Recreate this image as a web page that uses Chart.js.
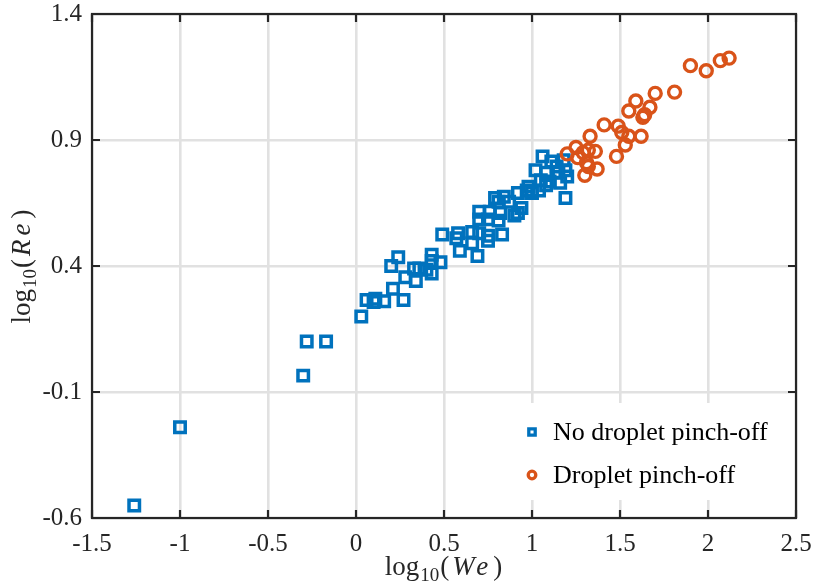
<!DOCTYPE html>
<html>
<head>
<meta charset="utf-8">
<title>log10(Re) against log10(We)</title>
<script src="https://cdn.jsdelivr.net/npm/chart.js@4.4.0/dist/chart.umd.min.js"></script>
<style>
	html, body { margin: 0; padding: 0; background: #fff; }
</style>
</head>
<body>
<canvas id="canvas" width="813" height="585"></canvas>
<script>
	// values: log10(We), log10(Re)
	const noPinchWe = [-1.26, -1.00, -0.30, -0.28, -0.17, 0.03, 0.06, 0.11, 0.10, 0.16, 0.21, 0.27, 0.20, 0.24, 0.28, 0.34, 0.33, 0.36, 0.40, 0.43,
		0.43, 0.48, 0.43, 0.49, 0.58, 0.57, 0.66, 0.70, 0.66, 0.59, 0.69, 0.75, 0.75, 0.83, 0.70, 0.75, 0.81, 0.70, 0.76, 0.82,
		0.79, 0.81, 0.87, 0.92, 0.92, 0.94, 0.90, 0.98, 1.00, 0.97, 0.84, 1.19, 1.11, 1.06, 1.02, 1.08, 1.14, 1.15, 1.20, 1.16,
		1.10, 1.05, 1.18, 1.19, 1.04, 1.08];
	const noPinchRe = [-0.55, -0.24, -0.035, 0.10, 0.10, 0.20, 0.265, 0.27, 0.257, 0.26, 0.31, 0.265, 0.40, 0.435, 0.355, 0.34, 0.39, 0.39, 0.385, 0.445,
		0.42, 0.415, 0.37, 0.525, 0.53, 0.51, 0.535, 0.53, 0.49, 0.46, 0.44, 0.52, 0.50, 0.525, 0.585, 0.585, 0.58, 0.615, 0.615, 0.61,
		0.67, 0.655, 0.655, 0.69, 0.61, 0.63, 0.60, 0.715, 0.69, 0.70, 0.675, 0.67, 0.815, 0.835, 0.78, 0.77, 0.795, 0.77, 0.755, 0.73,
		0.735, 0.74, 0.82, 0.78, 0.70, 0.72];
	const pinchWe = [1.20, 1.25, 1.26, 1.29, 1.31, 1.32, 1.33, 1.32, 1.36, 1.30, 1.37, 1.41, 1.49, 1.51, 1.55, 1.62, 1.53, 1.48, 1.55, 1.59,
		1.63, 1.64, 1.67, 1.70, 1.81, 1.90, 1.99, 2.07, 2.12];
	const pinchRe = [0.845, 0.87, 0.83, 0.85, 0.81, 0.795, 0.915, 0.86, 0.855, 0.76, 0.785, 0.96, 0.955, 0.93, 0.915, 0.915, 0.88, 0.835, 1.015, 1.055,
		0.99, 1.00, 1.03, 1.085, 1.09, 1.195, 1.175, 1.215, 1.225];

	const seriesNames = ['No droplet pinch-off', 'Droplet pinch-off'];
	const xTicks = [-1.5, -1, -0.5, 0, 0.5, 1, 1.5, 2, 2.5];
	const yTicks = [-0.6, -0.1, 0.4, 0.9, 1.4];
	// axis titles: [text, style]
	const xTitle = [['log', 'n'], ['10', 'sub'], ['(', 'n'], ['We', 'it'], [')', 'n']];
	const yTitle = [['log', 'n'], ['10', 'sub'], ['(', 'n'], ['Re', 'it'], [')', 'n']];

	const blue = '#0072BD';
	const orange = '#D95319';
	const axisColor = '#262626';
	const serif = '"Liberation Serif", "Times New Roman", serif';

	const toPoints = (xs, ys) => xs.map((x, i) => ({ x: x, y: ys[i] }));

	function drawTitle(ctx, parts, cx, cy, angle) {
		const fonts = {
			n: `27px ${serif}`,
			sub: `19px ${serif}`,
			it: `italic 27px ${serif}`,
		};
		ctx.save();
		const widths = parts.map(([t, s]) => {
			ctx.font = fonts[s];
			ctx.letterSpacing = s === 'it' ? '4px' : '0px';
			return ctx.measureText(t).width + (s === 'it' ? 3 : 1);
		});
		const total = widths.reduce((a, b) => a + b, 0);
		ctx.translate(cx, cy);
		ctx.rotate(angle);
		ctx.fillStyle = axisColor;
		ctx.textBaseline = 'alphabetic';
		ctx.textAlign = 'left';
		let x = -total / 2;
		parts.forEach(([t, s], i) => {
			ctx.font = fonts[s];
			ctx.letterSpacing = s === 'it' ? '4px' : '0px';
			ctx.fillText(t, x + (s === 'it' ? 2 : 0), s === 'sub' ? 6 : 0);
			x += widths[i];
		});
		ctx.restore();
	}

	const framePlugin = {
		id: 'frame',
		afterDatasetsDraw(chart) {
			// legend inside the lower right corner of the axes
			const { ctx, chartArea } = chart;
			const lx = chartArea.right - 282;
			const ly = chartArea.bottom - 115;
			ctx.save();
			ctx.fillStyle = '#fff';
			ctx.fillRect(lx, ly, 280, 97);
			chart.data.datasets.slice().sort((a, b) => a.legendRow - b.legendRow).forEach((ds, i) => {
				const mx = lx + 18;
				const my = ly + 29 + i * 43;
				ctx.strokeStyle = ds.borderColor;
				ctx.lineWidth = 3.3;
				ctx.beginPath();
				if (ds.pointStyle === 'rect') {
					ctx.rect(mx - 3.2, my - 3.2, 6.4, 6.4);
				} else {
					ctx.arc(mx, my, 3.8, 0, Math.PI * 2);
				}
				ctx.stroke();
				ctx.fillStyle = '#000';
				ctx.font = `26px ${serif}`;
				ctx.textBaseline = 'middle';
				ctx.fillText(ds.label, lx + 39, my + 1);
			});
			ctx.restore();
		},
		afterDraw(chart) {
			const { ctx, chartArea, scales } = chart;
			const { left, right, top, bottom } = chartArea;
			ctx.save();
			ctx.strokeStyle = axisColor;
			ctx.lineWidth = 2.2;
			ctx.strokeRect(left, top, right - left, bottom - top);
			ctx.beginPath();
			const len = 8;
			xTicks.forEach((v) => {
				const px = scales.x.getPixelForValue(v);
				ctx.moveTo(px, bottom); ctx.lineTo(px, bottom - len);
				ctx.moveTo(px, top); ctx.lineTo(px, top + len);
			});
			yTicks.forEach((v) => {
				const py = scales.y.getPixelForValue(v);
				ctx.moveTo(left, py); ctx.lineTo(left + len, py);
				ctx.moveTo(right, py); ctx.lineTo(right - len, py);
			});
			ctx.stroke();
			ctx.restore();
			drawTitle(ctx, xTitle, (left + right) / 2, 575, 0);
			drawTitle(ctx, yTitle, 30, (top + bottom) / 2, -Math.PI / 2);
		},
	};

	new Chart(document.getElementById('canvas'), {
		type: 'scatter',
		data: {
			datasets: [
				{
					label: seriesNames[0],
					legendRow: 0,
					data: toPoints(noPinchWe, noPinchRe),
					pointStyle: 'rect',
					pointRadius: 7.4,
					pointBorderWidth: 3.5,
					borderColor: blue,
					backgroundColor: 'rgba(0,0,0,0)',
					order: 1,
				},
				{
					label: seriesNames[1],
					legendRow: 1,
					data: toPoints(pinchWe, pinchRe),
					pointStyle: 'circle',
					pointRadius: 6,
					pointBorderWidth: 3.4,
					borderColor: orange,
					backgroundColor: 'rgba(0,0,0,0)',
					order: 0,
				},
			],
		},
		options: {
			responsive: false,
			animation: false,
			events: [],
			layout: { padding: { left: 0, right: 17, top: 14, bottom: 0 } },
			plugins: {
				legend: { display: false },
				tooltip: { enabled: false },
			},
			scales: {
				x: {
					type: 'linear',
					min: -1.5,
					max: 2.5,
					afterBuildTicks: (scale) => { scale.ticks = xTicks.map((v) => ({ value: v })); },
					afterFit: (scale) => {
						scale.height = 67;
						scale.paddingLeft = 0;
						scale.paddingRight = 0;
					},
					grid: { color: '#e1e1e1', lineWidth: 2.6, drawTicks: false },
					border: { display: false },
					ticks: {
						padding: 11,
						color: axisColor,
						font: { family: serif, size: 25 },
						maxRotation: 0,
						autoSkip: false,
						callback: (v) => String(v),
					},
				},
				y: {
					type: 'linear',
					min: -0.6,
					max: 1.4,
					afterBuildTicks: (scale) => { scale.ticks = yTicks.map((v) => ({ value: v })); },
					afterFit: (scale) => {
						scale.width = 92;
						scale.paddingTop = 0;
						scale.paddingBottom = 0;
					},
					grid: { color: '#e1e1e1', lineWidth: 2.6, drawTicks: false },
					border: { display: false },
					ticks: {
						padding: 10,
						color: axisColor,
						font: { family: serif, size: 25 },
						callback: (v) => String(v),
					},
				},
			},
		},
		plugins: [framePlugin],
	});
</script>
</body>
</html>
